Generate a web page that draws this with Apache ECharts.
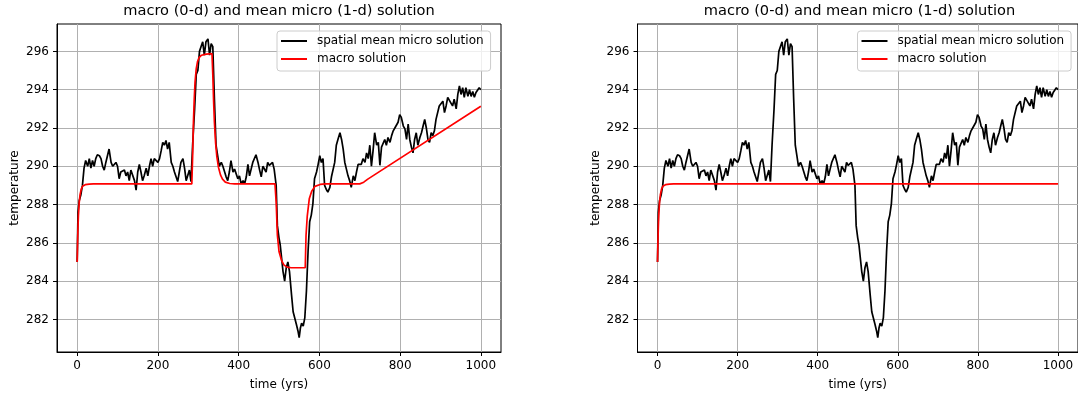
<!DOCTYPE html>
<html>
<head>
<meta charset="utf-8">
<script src="https://cdn.jsdelivr.net/npm/echarts@6/dist/echarts.min.js"></script>
<style>html,body{margin:0;padding:0;background:#fff;}#chart{width:1078px;height:396px;}</style>
</head>
<body>
<div id="chart"></div>
<script>
// ---- data ----
const titleText = 'macro (0-d) and mean micro (1-d) solution';
const xTicks = [0, 200, 400, 600, 800, 1000];
const yTicks = [282, 284, 286, 288, 290, 292, 294, 296];

const microYears = [0,2,5,9,13,17,21,26,30,34,38,42,46,50,55,59,63,67,71,75,79,84,88,92,96,100,104,108,112,117,121,125,129,133,137,142,146,150,154,158,162,166,171,175,179,183,187,191,195,200,204,208,212,216,220,224,228,233,237,241,245,249,253,257,262,266,270,274,278,282,286,291,295,299,303,307,311,315,319,324,328,332,336,340,344,348,352,357,361,365,369,373,377,381,386,390,394,398,402,406,411,415,419,423,427,431,435,439,443,448,452,456,460,464,468,472,476,480,484,488,493,496,500,503,506,510,514,518,522,526,531,535,539,543,547,550,553,556,560,564,568,572,576,580,584,588,593,597,601,605,609,613,617,621,626,630,634,638,642,646,651,655,659,663,667,671,675,679,684,688,692,696,700,704,708,713,717,721,725,729,733,737,742,746,750,754,758,762,766,770,775,779,783,787,791,795,799,803,808,812,816,820,824,828,832,836,840,844,849,853,857,861,865,869,873,877,881,885,889,893,897,901,906,910,914,918,922,926,930,934,939,943,947,951,955,959,963,968,972,976,980,984,988,992,996,1000];
const microValues = [285.0,287.6,288.2,288.5,289.0,289.9,290.3,290.0,290.4,289.9,290.3,290.0,290.4,290.6,290.55,290.4,290.0,289.8,290.2,290.55,290.9,290.2,290.0,290.1,290.2,290.0,289.35,289.7,289.7,289.8,289.5,289.7,289.25,289.8,289.7,289.25,288.75,289.7,290.1,289.7,289.25,289.5,289.9,289.5,290.0,290.4,290.0,290.4,290.5,290.2,290.4,290.8,291.25,291.1,291.35,290.9,291.25,290.2,290.0,289.7,289.45,289.2,289.7,290.2,290.4,289.9,289.25,289.2,289.8,289.2,291.1,293.0,294.8,295.0,296.0,296.25,296.5,295.8,296.5,296.65,295.8,296.4,296.25,293.5,291.1,290.55,290.0,290.2,290.0,290.05,289.45,289.25,289.7,290.3,289.7,289.85,289.8,289.35,289.5,289.1,289.25,289.1,289.45,290.1,289.5,289.85,290.2,290.3,290.6,290.2,289.8,289.45,290.0,290.05,289.7,290.2,290.05,290.0,290.2,289.85,289.0,286.9,286.25,285.9,285.9,284.5,284.0,284.7,285.0,284.5,283.3,282.4,282.35,281.75,281.4,281.05,281.55,281.8,281.65,282.1,283.5,285.55,287.1,287.45,288.05,289.35,289.7,290.1,290.55,290.2,290.4,289.0,288.8,288.65,288.9,289.45,289.35,290.2,291.1,291.4,291.75,291.4,290.9,290.2,289.85,289.5,289.25,288.9,289.5,289.25,289.7,290.1,290.0,290.1,290.4,290.2,290.7,290.4,291.1,290.0,290.8,291.75,291.1,291.25,290.05,291.0,291.1,291.4,291.1,291.5,291.25,291.6,291.85,292.0,291.95,292.3,292.7,292.55,292.1,291.95,291.4,292.2,291.4,291.0,290.7,291.4,291.75,291.1,291.5,291.75,292.1,292.45,292.0,291.4,291.25,291.75,291.6,291.85,292.45,292.55,293.15,293.05,293.4,292.8,293.15,293.6,293.5,293.3,293.15,293.5,293.0,293.75,294.2,293.75,294.1,293.6,294.1,293.65,294.0,293.65,293.9,293.6,293.85,293.75,294.1,294.0];

// macro solution with forcing (left panel)
const macroYears = [0,1,2,3,5,7,10,14,20,30,40,284,286,288,290,292,295,298,302,308,320,334,336,338,340,343,346,350,355,360,367,378,390,490,493,496,500,506,512,520,530,565,567,570,575,581,589,602,615,700,710,720,1000];
const macroValues = [285.0,286.0,286.8,287.4,288.1,288.5,288.8,288.97,289.04,289.07,289.08,289.08,290.5,292.3,293.5,294.4,295.1,295.45,295.68,295.8,295.86,295.88,294.8,293.4,292.3,291.2,290.5,289.95,289.55,289.33,289.17,289.1,289.08,289.08,288.12,286.4,285.55,285.1,284.85,284.73,284.7,284.7,286.4,287.4,288.3,288.7,288.95,289.05,289.08,289.08,289.17,289.33,293.13];

// macro solution without forcing (right panel)
const macroFlatYears = [0,1,2,3,5,7,10,14,20,30,40,1000];
const macroFlatValues = [285.0,286.0,286.8,287.4,288.1,288.5,288.8,288.97,289.04,289.07,289.08,289.08];

const legendNames = ['spatial mean micro solution', 'macro solution'];

// ---- build ----
const zip = (xs, ys) => xs.map((x, i) => [x, ys[i]]);
const FONT = 'DejaVu Sans';

function xAxis(gridIndex) {
  return {
    type: 'value', gridIndex, min: -50, max: 1050, minInterval: 200, maxInterval: 200,
    name: 'time (yrs)', nameLocation: 'middle', nameGap: 27,
    nameTextStyle: { fontFamily: FONT, fontSize: 12, color: '#000' },
    axisLine: { onZero: false, lineStyle: { color: '#000', width: 1 } },
    axisTick: { show: true, customValues: xTicks, length: 4, lineStyle: { color: '#000', width: 1 } },
    axisLabel: { customValues: xTicks, margin: 8, fontFamily: FONT, fontSize: 12, color: '#000',
                 formatter: v => String(v) },
    splitLine: { show: true, lineStyle: { color: '#b0b0b0', width: 1 } }
  };
}
function yAxis(gridIndex) {
  return {
    type: 'value', gridIndex, min: 280.3, max: 297.43, minInterval: 2, maxInterval: 2,
    name: 'temperature', nameLocation: 'middle', nameGap: 36,
    nameTextStyle: { fontFamily: FONT, fontSize: 12, color: '#000' },
    axisLine: { onZero: false, lineStyle: { color: '#000', width: 1 } },
    axisTick: { show: true, customValues: yTicks, length: 4, lineStyle: { color: '#000', width: 1 } },
    axisLabel: { customValues: yTicks, margin: 8, fontFamily: FONT, fontSize: 12, color: '#000',
                 formatter: v => String(v) },
    splitLine: { show: true, lineStyle: { color: '#b0b0b0', width: 1 } }
  };
}
function legend(left) {
  return {
    orient: 'vertical', left, top: 31, padding: [3, 7, 5, 4], itemGap: 4,
    itemWidth: 26, itemHeight: 2, icon: 'rect',
    backgroundColor: 'rgba(255,255,255,0.8)', borderColor: '#cccccc', borderWidth: 1, borderRadius: 3,
    textStyle: { fontFamily: FONT, fontSize: 12, color: '#000', lineHeight: 14, padding: [0, 0, 0, 5] },
    data: legendNames
  };
}
function line(name, data, color, xi) {
  return { type: 'line', name, data, xAxisIndex: xi, yAxisIndex: xi, showSymbol: false, symbol: 'none',
           lineStyle: { color, width: 1.7 }, itemStyle: { color }, animation: false, silent: true };
}

const chart = echarts.init(document.getElementById('chart'), null, { renderer: 'canvas' });
chart.setOption({
  animation: false,
  backgroundColor: '#fff',
  title: [
    { text: titleText, left: 279, top: 4, textAlign: 'center', padding: 0,
      textStyle: { fontFamily: FONT, fontSize: 14.6, fontWeight: 'normal', color: '#000' } },
    { text: titleText, left: 859.5, top: 4, textAlign: 'center', padding: 0,
      textStyle: { fontFamily: FONT, fontSize: 14.6, fontWeight: 'normal', color: '#000' } }
  ],
  grid: [
    { left: 57, top: 24, width: 444, height: 330, show: true, borderColor: '#000', borderWidth: 1, backgroundColor: 'transparent' },
    { left: 637.5, top: 24, width: 444, height: 330, show: true, borderColor: '#000', borderWidth: 1, backgroundColor: 'transparent' }
  ],
  legend: [legend(277), legend(857.5)],
  xAxis: [xAxis(0), xAxis(1)],
  yAxis: [yAxis(0), yAxis(1)],
  series: [
    line(legendNames[0], zip(microYears, microValues), '#000000', 0),
    line(legendNames[1], zip(macroYears, macroValues), '#ff0000', 0),
    line(legendNames[0], zip(microYears, microValues), '#000000', 1),
    line(legendNames[1], zip(macroFlatYears, macroFlatValues), '#ff0000', 1)
  ]
});
</script>
</body>
</html>
